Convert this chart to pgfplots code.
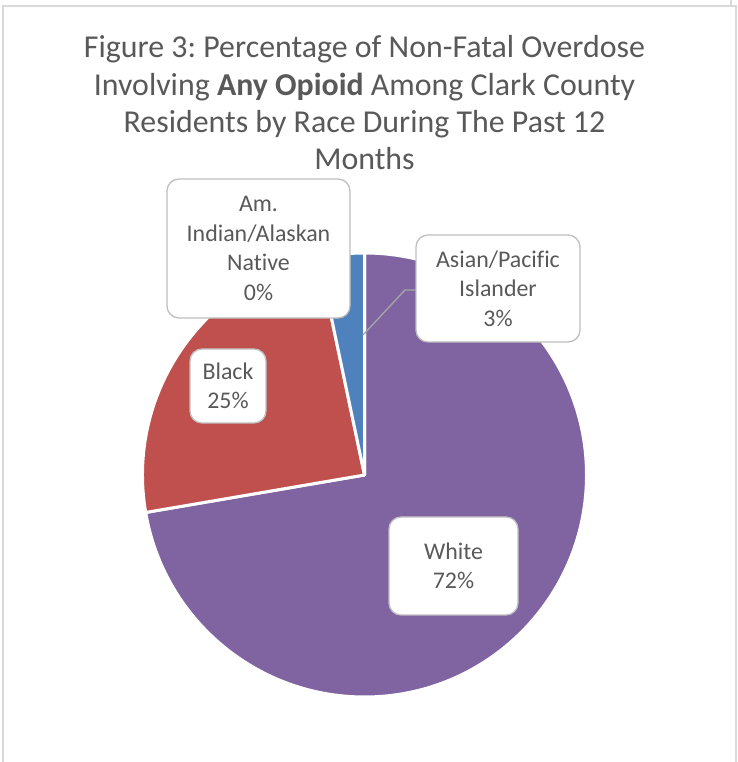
\documentclass[border=0pt]{standalone}
\usepackage{pgfplots}
\usepackage{pgfplotstable}
\usepackage{fontspec}
\setmainfont[Ligatures=NoCommon]{Carlito}
\pgfplotsset{compat=1.18}
\frenchspacing

\definecolor{cWhite}{HTML}{8064A2}
\definecolor{cBlack}{HTML}{C0504D}
\definecolor{cAsian}{HTML}{4F81BD}
\definecolor{txt}{HTML}{595959}
\definecolor{boxline}{HTML}{BFBFBF}
\definecolor{leader}{HTML}{A6A6A6}
\definecolor{frame}{HTML}{D9D9D9}

% share of non-fatal overdoses by race (percent)
\pgfplotstableread{
share race
72.3  White
24.4  Black
3.3   Asian
0.0   AmIndian
}\piedata

% pie centre and radius, in pixel units of the picture
\def\cx{364.5}
\def\cy{287}
\def\rr{222}

\newcommand\slice[3]{%
  \fill[#3,draw=white,line width=3bp,line join=round]
    (axis cs:\cx,\cy) -- ++(#1:\rr bp) arc[start angle=#1,end angle=#2,radius=\rr bp] -- cycle;}

\begin{document}
\begin{tikzpicture}
% slice end angles, clockwise from 12 o'clock
\pgfplotstablegetelem{0}{share}\of\piedata
\pgfmathsetmacro\aA{90-3.6*\pgfplotsretval}
\pgfplotstablegetelem{1}{share}\of\piedata
\pgfmathsetmacro\aB{\aA-3.6*\pgfplotsretval}
\pgfplotstablegetelem{2}{share}\of\piedata
\pgfmathsetmacro\aC{\aB-3.6*\pgfplotsretval}
\begin{axis}[
    scale only axis,
    width=738bp, height=762bp,
    xmin=0, xmax=738, ymin=0, ymax=762,
    hide axis,
    clip=false,
    anchor=south west, at={(0,0)},
]
\fill[white] (axis cs:0,0) rectangle (axis cs:738,762);

% frame
\draw[frame,line width=2bp] (axis cs:2.5,0) -- (axis cs:2.5,756) -- (axis cs:736,756) -- (axis cs:736,0);
\draw[frame,line width=2bp] (axis cs:731,762) -- (axis cs:731,756);

% title
\begin{scope}[every node/.style={text=txt,font=\fontsize{32}{37}\selectfont,anchor=base,inner sep=0pt}]
\node at (axis cs:364.5,704) {Figure 3: Percentage of Non-Fatal Overdose};
\node at (axis cs:364.5,666.5) {Involving \textbf{Any Opioid} Among Clark County};
\node at (axis cs:364.5,629) {Residents by Race During The Past 12};
\node at (axis cs:364.5,592) {Months};
\end{scope}

% slices
\slice{90}{\aA}{cWhite}
\slice{\aA}{\aB}{cBlack}
\slice{\aB}{\aC}{cAsian}

% leader line
\draw[leader,line width=1.3bp] (axis cs:416,472) -- (axis cs:405,472) -- (axis cs:363,427);

% callouts
\begin{scope}[every node/.style={draw=boxline,line width=1.3bp,fill=white,rounded corners=12bp,
    text=txt,font=\fontsize{24}{29.5}\selectfont,align=center,inner sep=0pt}]
\node[minimum width=183bp,minimum height=139bp] at (axis cs:258.5,513.5) {Am.\\Indian/Alaskan\\Native\\0\%};
\node[minimum width=164bp,minimum height=107bp] at (axis cs:498,473.5) {Asian/Pacific\\Islander\\3\%};
\node[minimum width=76bp,minimum height=74bp] at (axis cs:228,376) {Black\\25\%};
\node[minimum width=129bp,minimum height=98bp] at (axis cs:453.5,196) {White\\72\%};
\end{scope}
\end{axis}
\pgfresetboundingbox
\path[use as bounding box] (0,0) rectangle (738bp,762bp);
\end{tikzpicture}
\end{document}
